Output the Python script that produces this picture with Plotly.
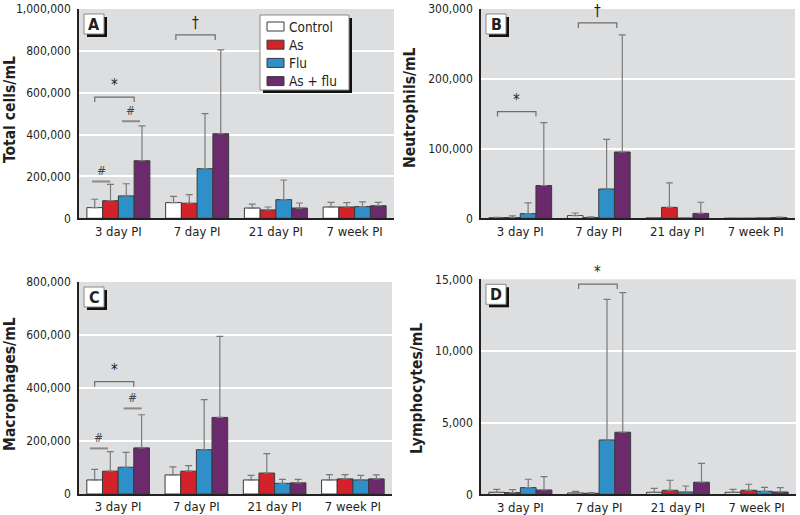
import plotly.graph_objects as go

# ---------------- data ----------------
categories = ["3 day PI", "7 day PI", "21 day PI", "7 week PI"]
groups = ["Control", "As", "Flu", "As + flu"]

total_mean = {
    "Control": [51000, 75000, 49000, 54000],
    "As": [84000, 72000, 40000, 54000],
    "Flu": [107000, 237000, 89000, 56000],
    "As + flu": [275000, 404000, 49000, 60000],
}
total_sd = {
    "Control": [40000, 30000, 19000, 22000],
    "As": [78000, 41000, 14000, 21000],
    "Flu": [58000, 263000, 94000, 22000],
    "As + flu": [167000, 401000, 24000, 16000],
}

neut_mean = {
    "Control": [800, 3800, 500, 0],
    "As": [1000, 1000, 15700, 0],
    "Flu": [6700, 42000, 300, 500],
    "As + flu": [47000, 95000, 7000, 1000],
}
neut_sd = {
    "Control": [700, 3800, 500, 0],
    "As": [2500, 1000, 35000, 0],
    "Flu": [15300, 71000, 300, 400],
    "As + flu": [90000, 168000, 16000, 800],
}

macro_mean = {
    "Control": [53000, 72000, 53000, 53000],
    "As": [86000, 86000, 79000, 57000],
    "Flu": [101000, 167000, 40000, 53000],
    "As + flu": [174000, 289000, 42000, 57000],
}
macro_sd = {
    "Control": [40000, 30000, 17000, 20000],
    "As": [74000, 21000, 73000, 16000],
    "Flu": [56000, 189000, 15000, 17000],
    "As + flu": [125000, 306000, 13000, 15000],
}

lymph_mean = {
    "Control": [140, 93, 140, 140],
    "As": [120, 70, 280, 280],
    "Flu": [465, 3790, 160, 210],
    "As + flu": [300, 4330, 840, 160],
}
lymph_sd = {
    "Control": [210, 117, 280, 210],
    "As": [210, 46, 700, 420],
    "Flu": [585, 9810, 420, 280],
    "As + flu": [930, 9740, 1320, 305],
}

y_titles = ["Total cells/mL", "Neutrophils/mL", "Macrophages/mL", "Lymphocytes/mL"]
panel_letters = ["A", "B", "C", "D"]
y_ticks = [
    [0, 200000, 400000, 600000, 800000, 1000000],
    [0, 100000, 200000, 300000],
    [0, 200000, 400000, 600000, 800000],
    [0, 5000, 10000, 15000],
]

# significance markers: (panel index, x0, x1, y, label, kind)
brackets = [
    (0, -0.30, 0.20, 579000, "*", "bracket"),
    (0, 0.73, 1.23, 876000, "†", "bracket"),
    (0, -0.335, -0.105, 176000, "#", "line"),
    (0, 0.045, 0.275, 464000, "#", "line"),
    (1, -0.29, 0.20, 153000, "*", "bracket"),
    (1, 0.74, 1.23, 280000, "†", "bracket"),
    (2, -0.30, 0.20, 424000, "*", "bracket"),
    (2, -0.36, -0.13, 172000, "#", "line"),
    (2, 0.07, 0.30, 323000, "#", "line"),
    (3, 0.74, 1.23, 14670, "*", "bracket"),
]

colors = {"Control": "#ffffff", "As": "#d3222a", "Flu": "#2f8fc9", "As + flu": "#6a2a6c"}

# ---------------- layout geometry (pixels) ----------------
W, H = 800, 515
panels = [
    dict(x0=79, x1=394, y0=9, y1=218.3, ymax=1000000, tx=10, ty=110),
    dict(x0=481, x1=795, y0=9, y1=218.3, ymax=300000, tx=410, ty=107),
    dict(x0=79, x1=392, y0=282, y1=494, ymax=800000, tx=10, ty=384),
    dict(x0=481, x1=796, y0=279.3, y1=494.3, ymax=15000, tx=417, ty=389),
]


def px(x):
    return x / W


def py(y):
    return 1 - y / H


FONT = "DejaVu Sans Condensed, DejaVu Sans, sans-serif"
TXT = "#231f20"

fig = go.Figure()
means = [total_mean, neut_mean, macro_mean, lymph_mean]
sds = [total_sd, neut_sd, macro_sd, lymph_sd]
xpos = list(range(len(categories)))

for i in range(4):
    suf = "" if i == 0 else str(i + 1)
    for g in groups:
        fig.add_trace(go.Bar(
            x=xpos, y=means[i][g], name=g, showlegend=False,
            marker=dict(color=colors[g], line=dict(color="#3a3a3a", width=1)),
            error_y=dict(type="data", array=sds[i][g], arrayminus=[0] * 4,
                         symmetric=False, color="#7a7a7a", thickness=1.2, width=3.5),
            xaxis="x" + suf, yaxis="y" + suf,
        ))
    p = panels[i]
    fig.layout["xaxis" + suf] = dict(
        domain=[px(p["x0"]), px(p["x1"])], anchor="y" + suf, automargin=False,
        range=[-0.5, 3.5], tickvals=xpos, ticktext=categories,
        showgrid=False, zeroline=False, showline=True, linecolor="#222", linewidth=1.5,
        ticks="", tickfont=dict(family=FONT, size=13, color=TXT), fixedrange=True,
    )
    fig.layout["yaxis" + suf] = dict(
        domain=[py(p["y1"]), py(p["y0"])], anchor="x" + suf, automargin=False,
        range=[0, p["ymax"]], tickvals=y_ticks[i], tickformat=",d",
        showgrid=True, gridcolor="#ffffff", gridwidth=1.5, zeroline=False,
        showline=True, linecolor="#222", linewidth=1.5, ticks="",
        tickfont=dict(family=FONT, size=12, color=TXT), ticklabelstandoff=4,
    )

shapes = []
annotations = []

# axis titles + panel letters
for i, p in enumerate(panels):
    annotations.append(dict(
        x=px(p["tx"]), y=py(p["ty"]), xref="paper", yref="paper",
        text="<b>" + y_titles[i] + "</b>", textangle=-90, showarrow=False,
        font=dict(family=FONT, size=15.5, color=TXT), xanchor="center", yanchor="middle",
    ))
    bx0, by0 = p["x0"] + 5, p["y0"] + 5
    bs = 20
    shapes.append(dict(type="rect", xref="paper", yref="paper",
                       x0=px(bx0 + 3), x1=px(bx0 + bs + 3), y0=py(by0 + bs + 3), y1=py(by0 + 3),
                       fillcolor="#111", line=dict(width=0)))
    shapes.append(dict(type="rect", xref="paper", yref="paper",
                       x0=px(bx0), x1=px(bx0 + bs), y0=py(by0 + bs), y1=py(by0),
                       fillcolor="#ffffff", line=dict(color="#888", width=1)))
    annotations.append(dict(
        x=px(bx0 + bs / 2), y=py(by0 + bs / 2), xref="paper", yref="paper",
        text="<b>" + panel_letters[i] + "</b>", showarrow=False,
        font=dict(family=FONT, size=16, color=TXT), xanchor="center", yanchor="middle",
    ))

# significance brackets
for (pi, x0, x1, yv, lab, kind) in brackets:
    suf = "" if pi == 0 else str(pi + 1)
    ymax = panels[pi]["ymax"]
    pix = ymax / (panels[pi]["y1"] - panels[pi]["y0"])
    if kind == "bracket":
        d = 5 * pix
        shapes.append(dict(type="path", xref="x" + suf, yref="y" + suf,
                           path=f"M {x0},{yv - d} L {x0},{yv} L {x1},{yv} L {x1},{yv - d}",
                           line=dict(color="#6e6e6e", width=1.2)))
        annotations.append(dict(x=(x0 + x1) / 2, y=yv + 1 * pix, xref="x" + suf, yref="y" + suf,
                                text=lab, showarrow=False, yanchor="bottom",
                                font=dict(family=FONT, size=15, color=TXT)))
    else:
        shapes.append(dict(type="line", xref="x" + suf, yref="y" + suf,
                           x0=x0, x1=x1, y0=yv, y1=yv,
                           line=dict(color="#8a8a8a", width=2)))
        annotations.append(dict(x=(x0 + x1) / 2, y=yv + 1 * pix, xref="x" + suf, yref="y" + suf,
                                text="<i>" + lab + "</i>", showarrow=False, yanchor="bottom",
                                font=dict(family=FONT, size=12, color="#444")))

# manual legend in panel A
lx0, ly0, lx1, ly1 = 260, 15, 349, 90
shapes.append(dict(type="rect", xref="paper", yref="paper",
                   x0=px(lx0 + 3), x1=px(lx1 + 3), y0=py(ly1 + 3), y1=py(ly0 + 3),
                   fillcolor="#111", line=dict(width=0)))
shapes.append(dict(type="rect", xref="paper", yref="paper",
                   x0=px(lx0), x1=px(lx1), y0=py(ly1), y1=py(ly0),
                   fillcolor="#ffffff", line=dict(color="#888", width=1)))
for k, g in enumerate(groups):
    yc = 26.5 + k * 18.2
    shapes.append(dict(type="rect", xref="paper", yref="paper",
                       x0=px(267), x1=px(284), y0=py(yc + 4.5), y1=py(yc - 4.5),
                       fillcolor=colors[g], line=dict(color="#3a3a3a", width=1)))
    annotations.append(dict(x=px(287), y=py(yc), xref="paper", yref="paper",
                            text=g, showarrow=False, xanchor="left", yanchor="middle",
                            font=dict(family=FONT, size=13.5, color=TXT)))

fig.update_layout(
    width=W, height=H, autosize=False,
    margin=dict(l=0, r=0, t=0, b=0, autoexpand=False),
    paper_bgcolor="#ffffff", plot_bgcolor="#dddee0",
    barmode="group", bargap=0.2, bargroupgap=0,
    shapes=shapes, annotations=annotations,
    font=dict(family=FONT, color=TXT),
)

fig.write_html(
    "out.html",
    config={"displayModeBar": False},
    post_script="document.body.style.margin='0';document.body.style.overflow='hidden';",
)
